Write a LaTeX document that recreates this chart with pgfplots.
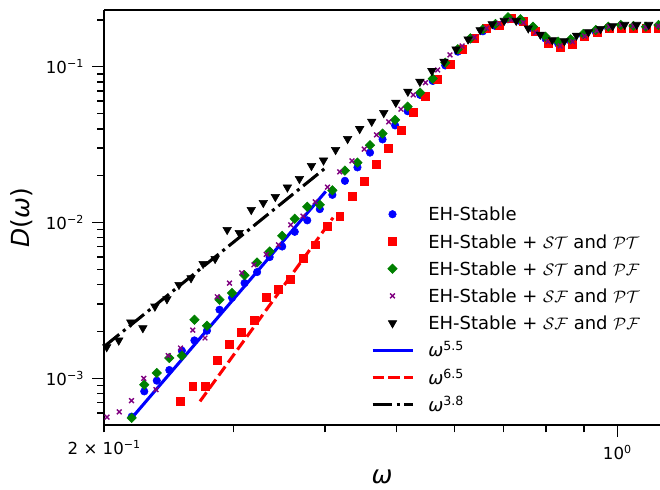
\documentclass[border=0pt]{standalone}
\usepackage{fontspec}
\setmainfont{DejaVu Sans}
\usepackage{pgfplots}
\usepackage{pgfplotstable}
\pgfplotsset{compat=1.18}
\definecolor{mpurple}{RGB}{128,0,128}
\definecolor{mgreen}{RGB}{0,128,0}

\pgfplotstableread[row sep=\\]{
x y\\
0.21794 5.682e-4\\
0.22669 8.254e-4\\
0.23578 9.666e-4\\
0.24524 1.1309e-3\\
0.25508 1.5047e-3\\
0.26532 1.752e-3\\
0.27597 2.0213e-3\\
0.28704 2.756e-3\\
0.29856 3.2907e-3\\
0.31054 4.088e-3\\
0.32300 4.809e-3\\
0.33596 6.001e-3\\
0.34944 7.017e-3\\
0.36346 8.716e-3\\
0.37805 1.033e-2\\
0.39322 1.219e-2\\
0.40900 1.5047e-2\\
0.42541 1.851e-2\\
0.44248 2.258e-2\\
0.46024 2.810e-2\\
0.47871 3.415e-2\\
0.49792 4.198e-2\\
0.51790 5.177e-2\\
0.53868 6.586e-2\\
0.56030 8.096e-2\\
0.58279 0.1018\\
0.60617 0.1248\\
0.63050 0.1498\\
0.65580 0.1687\\
0.68212 0.1823\\
0.70949 0.2014\\
0.73796 0.1955\\
0.76757 0.1753\\
0.79837 0.1512\\
0.83041 0.1404\\
0.86373 0.1455\\
0.89839 0.1573\\
0.93444 0.1669\\
0.97194 0.1753\\
1.01094 0.1797\\
1.05151 0.1771\\
1.09371 0.1753\\
1.13760 0.1797\\
}\blueT

\pgfplotstableread[row sep=\\]{
x y\\
0.25399 7.121e-4\\
0.26394 8.887e-4\\
0.27428 8.887e-4\\
0.28502 1.3043e-3\\
0.29618 1.6444e-3\\
0.30778 1.972e-3\\
0.31984 2.344e-3\\
0.33237 3.325e-3\\
0.34539 3.743e-3\\
0.35892 4.337e-3\\
0.37298 5.913e-3\\
0.38759 7.195e-3\\
0.40277 9.427e-3\\
0.41855 1.1038e-2\\
0.43494 1.483e-2\\
0.45198 1.851e-2\\
0.46968 2.378e-2\\
0.48808 3.012e-2\\
0.50720 3.881e-2\\
0.52707 5.072e-2\\
0.54771 6.422e-2\\
0.56916 8.303e-2\\
0.59145 0.1041\\
0.61462 0.1293\\
0.63869 0.1520\\
0.66371 0.1763\\
0.68971 0.1851\\
0.71673 0.2043\\
0.74480 0.1943\\
0.77397 0.1676\\
0.80429 0.1413\\
0.83579 0.1331\\
0.86853 0.1398\\
0.90255 0.1557\\
0.93790 0.1651\\
0.97464 0.1763\\
1.01282 0.1763\\
1.05249 0.1763\\
1.09372 0.1763\\
1.13656 0.1763\\
}\redT

\pgfplotstableread[row sep=\\]{
x y\\
0.21794 5.575e-4\\
0.22669 9.112e-4\\
0.23578 1.0830e-3\\
0.24524 1.3516e-3\\
0.25508 1.398e-3\\
0.26532 2.378e-3\\
0.27597 2.177e-3\\
0.28704 3.195e-3\\
0.29856 3.527e-3\\
0.31054 4.587e-3\\
0.32300 5.541e-3\\
0.33596 6.518e-3\\
0.34944 8.216e-3\\
0.36346 1.056e-2\\
0.37805 1.2606e-2\\
0.39322 1.2984e-2\\
0.40900 1.6086e-2\\
0.42541 2.154e-2\\
0.44248 2.424e-2\\
0.46024 3.134e-2\\
0.47871 3.721e-2\\
0.49792 4.553e-2\\
0.51790 5.541e-2\\
0.53868 6.813e-2\\
0.56030 8.377e-2\\
0.58279 0.1061\\
0.60617 0.1293\\
0.63050 0.1520\\
0.65580 0.1737\\
0.68212 0.1878\\
0.70949 0.2074\\
0.73796 0.2013\\
0.76757 0.1805\\
0.79837 0.1557\\
0.83041 0.1446\\
0.86373 0.1498\\
0.89839 0.1620\\
0.93444 0.1719\\
0.97194 0.1805\\
1.01094 0.1851\\
1.05151 0.1824\\
1.09371 0.1805\\
1.13760 0.1851\\
}\greenT

\pgfplotstableread[row sep=\\]{
x y\\
0.20170 5.641e-4\\
0.20960 6.090e-4\\
0.21781 7.195e-4\\
0.22634 1.0e-3\\
0.23521 8.464e-4\\
0.24442 1.398e-3\\
0.25399 1.566e-3\\
0.26394 2.0423e-3\\
0.27428 1.8155e-3\\
0.28502 3.340e-3\\
0.29618 4.088e-3\\
0.30778 4.760e-3\\
0.31984 5.356e-3\\
0.33237 6.254e-3\\
0.34539 7.195e-3\\
0.35892 9.666e-3\\
0.37298 1.0990e-2\\
0.38759 1.357e-2\\
0.40277 1.686e-2\\
0.41855 2.113e-2\\
0.43494 2.486e-2\\
0.45198 2.959e-2\\
0.46968 3.650e-2\\
0.48808 4.421e-2\\
0.50720 5.332e-2\\
0.52707 6.586e-2\\
0.54771 7.896e-2\\
0.56916 9.525e-2\\
0.59145 0.1189\\
0.61462 0.1357\\
0.63869 0.1543\\
0.66371 0.1763\\
0.68971 0.1897\\
0.71673 0.1993\\
0.74480 0.1915\\
0.77397 0.1651\\
0.80429 0.1446\\
0.83579 0.1357\\
0.86853 0.1446\\
0.90255 0.1573\\
0.93790 0.1701\\
0.97464 0.1805\\
1.01282 0.1851\\
1.05249 0.1824\\
1.09372 0.1789\\
1.13656 0.1824\\
}\purpleT

\pgfplotstableread[row sep=\\]{
x y\\
0.20151 1.590e-3\\
0.20927 1.752e-3\\
0.21733 2.286e-3\\
0.22570 2.104e-3\\
0.23439 2.894e-3\\
0.24342 3.228e-3\\
0.25279 3.987e-3\\
0.26253 4.401e-3\\
0.27264 5.436e-3\\
0.28314 5.852e-3\\
0.29404 8.979e-3\\
0.30536 8.590e-3\\
0.31712 1.206e-2\\
0.32933 1.3378e-2\\
0.34201 1.4614e-2\\
0.35518 1.681e-2\\
0.36886 1.906e-2\\
0.38306 2.309e-2\\
0.39781 2.504e-2\\
0.41313 2.925e-2\\
0.42904 3.440e-2\\
0.44556 3.987e-2\\
0.46272 4.441e-2\\
0.48054 5.050e-2\\
0.49904 5.878e-2\\
0.51826 6.916e-2\\
0.53822 8.013e-2\\
0.55894 9.385e-2\\
0.58046 0.1077\\
0.60281 0.1293\\
0.62602 0.1498\\
0.65012 0.1719\\
0.67515 0.1878\\
0.70115 0.1972\\
0.72815 0.1972\\
0.75619 0.1763\\
0.78531 0.1608\\
0.81555 0.1483\\
0.84695 0.1461\\
0.87956 0.1585\\
0.91343 0.1669\\
0.94860 0.1750\\
0.98513 0.1824\\
1.02306 0.1859\\
1.06245 0.1859\\
1.10336 0.1859\\
}\blackT

\pgfplotsset{
  mylegend/.style={legend image code/.code={\draw[mark repeat=2,mark phase=2,##1] plot coordinates {(0bp,0bp) (14.4bp,0bp) (28.8bp,0bp)};}},
}

\begin{document}
\begin{tikzpicture}
\begin{axis}[
  scale only axis,
  width=400.1bp, height=299bp,
  xmode=log, ymode=log,
  xmin=0.2, xmax=1.143, ymin=5e-4, ymax=0.2309,
  axis x line*=box, axis y line*=left,
  axis line style={line width=1.6bp, -},
  x axis line style={-}, y axis line style={-},
  tick align=outside, tick pos=left,
  tick style={line width=1.2bp, black},
  major tick length=8.6bp, minor tick length=5.2bp,
  xtick={1}, xticklabels={10\textsuperscript{0}},
  extra x ticks={0.2}, extra x tick labels={2 × 10\textsuperscript{−1}},
  extra x tick style={major tick length=5.2bp},
  minor xtick={0.3,0.4,0.5,0.6,0.7,0.8,0.9},
  ytick={1e-3,1e-2,1e-1},
  yticklabels={10\textsuperscript{−3},10\textsuperscript{−2},10\textsuperscript{−1}},
  minor ytick={6e-4,7e-4,8e-4,9e-4,2e-3,3e-3,4e-3,5e-3,6e-3,7e-3,8e-3,9e-3,2e-2,3e-2,4e-2,5e-2,6e-2,7e-2,8e-2,9e-2,2e-1},
  ticklabel style={font=\fontsize{12}{14}\selectfont},
  xticklabel style={yshift=-2.5bp},
  yticklabel style={xshift=-2.5bp},
  xlabel={\itshape ω}, ylabel={{\itshape D}({\itshape ω})},
  every axis x label/.style={at={(axis description cs:0.5,-0.1245)}, anchor=center, font=\fontsize{18}{21}\selectfont},
  every axis y label/.style={at={(axis description cs:-0.1494,0.5)}, anchor=center, rotate=90, font=\fontsize{18}{21}\selectfont},
  legend style={draw=none, fill=none, inner sep=0pt, at={(axis description cs:0.4794,0.5348)}, anchor=north west,
    font=\fontsize{13}{15}\selectfont, row sep=4.1bp, column sep=10.3bp,
    nodes={inner sep=0pt, text height=12.5bp, text depth=3bp}},
  legend cell align=left,
]
\addplot[only marks, mark=*, color=blue, mark size=2.7bp, mylegend] table {\blueT};
\addlegendentry{EH-Stable}
\addplot[only marks, mark=square*, color=red, mark size=2.85bp, mylegend] table {\redT};
\addlegendentry{EH-Stable + $\mathcal{ST}$ and $\mathcal{PT}$}
\addplot[only marks, mark=square*, color=mgreen, mark size=2.4bp, mark options={rotate=45}, mylegend] table {\greenT};
\addlegendentry{EH-Stable + $\mathcal{ST}$ and $\mathcal{PF}$}
\addplot[only marks, mark=x, color=mpurple, mark size=2.4bp, mark options={line width=1bp}, mylegend] table {\purpleT};
\addlegendentry{EH-Stable + $\mathcal{SF}$ and $\mathcal{PT}$}
\addplot[only marks, mark=triangle*, color=black, mark size=3.5bp, mark options={rotate=180}, mylegend] table {\blackT};
\addlegendentry{EH-Stable + $\mathcal{SF}$ and $\mathcal{PF}$}
\addplot[blue, line width=2.2bp, mark=none, mylegend] coordinates {(0.218,5.572e-4) (0.4006,1.583e-2)};
\addlegendentry{{\itshape ω}\textsuperscript{5.5}}
\addplot[red, line width=2.2bp, mark=none, dash pattern=on 8bp off 3.5bp, mylegend] coordinates {(0.2700,7.12e-4) (0.4099,1.074e-2)};
\addlegendentry{{\itshape ω}\textsuperscript{6.5}}
\addplot[black, line width=2.2bp, mark=none, dash pattern=on 13.8bp off 3.5bp on 2.2bp off 3.5bp, mylegend] coordinates {(0.2,1.6035e-3) (0.3997,2.227e-2)};
\addlegendentry{{\itshape ω}\textsuperscript{3.8}}
\end{axis}
\pgfresetboundingbox
\path[use as bounding box] (current axis.south west) ++(-75.1bp,-45.9bp) rectangle ++(475.2bp,352.1bp);
\end{tikzpicture}
\end{document}
